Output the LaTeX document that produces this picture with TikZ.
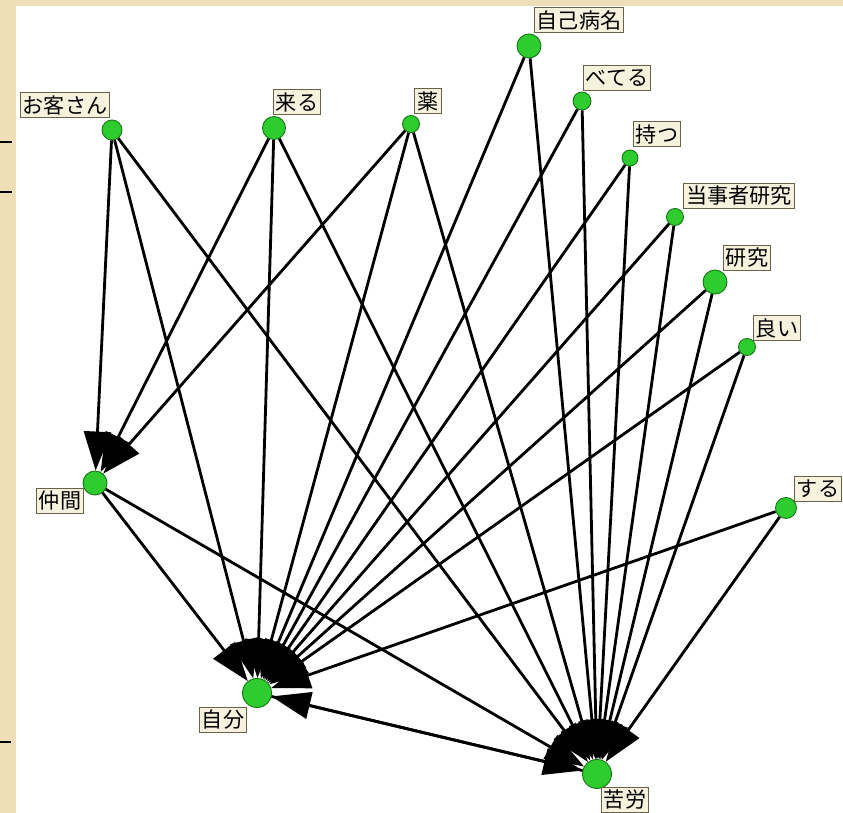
\documentclass[tikz,border=0pt]{standalone}
\usepackage{fontspec}
\newfontfamily\jpfont{Noto Sans CJK JP}
\usetikzlibrary{arrows.meta}

\definecolor{parch}{RGB}{238,223,184}
\definecolor{vgreen}{RGB}{46,204,46}
\definecolor{vline}{RGB}{20,115,20}
\definecolor{labfill}{RGB}{247,242,221}
\definecolor{labline}{RGB}{105,98,72}

\tikzset{
  vert/.style={circle, draw=vline, fill=vgreen, line width=0.5pt, inner sep=0pt},
  lab/.style={rectangle, draw=labline, fill=labfill, line width=0.6pt, inner xsep=0.05cm, inner ysep=0pt, minimum height=0.5cm, font=\jpfont\fontsize{12}{12}\selectfont},
  link/.style={line width=1.6pt, -{Triangle[length=0.78cm, width=0.54cm]}}
}

\begin{document}
\begin{tikzpicture}[x=0.02cm, y=-0.02cm]

\useasboundingbox (0,0) rectangle (843,813);
\fill [white] (0,0) rectangle (843,813);
\fill [parch] (0,0) rectangle (843,6);
\fill [parch] (0,0) rectangle (16,813);
\draw [line width=1.6pt] (0,142) -- (12,142);
\draw [line width=1.6pt] (0,192) -- (12,192);
\draw [line width=1.6pt] (0,742) -- (11,742);

\draw (112,130) node (okyaku) [vert, minimum size=0.40cm] {};
\draw (274,128) node (kuru) [vert, minimum size=0.46cm] {};
\draw (411,124) node (kusuri) [vert, minimum size=0.34cm] {};
\draw (529,46) node (jiko) [vert, minimum size=0.48cm] {};
\draw (582,101) node (beteru) [vert, minimum size=0.36cm] {};
\draw (630,158) node (motsu) [vert, minimum size=0.32cm] {};
\draw (675,217) node (tojisha) [vert, minimum size=0.34cm] {};
\draw (715,282) node (kenkyu) [vert, minimum size=0.48cm] {};
\draw (747,347) node (yoi) [vert, minimum size=0.34cm] {};
\draw (786,508) node (suru) [vert, minimum size=0.42cm] {};
\draw (95,483) node (nakama) [vert, minimum size=0.48cm] {};
\draw (257,693) node (jibun) [vert, minimum size=0.58cm] {};
\draw (597,774) node (kuro) [vert, minimum size=0.58cm] {};

\draw [link] (okyaku) -- (nakama);
\draw [link] (okyaku) -- (jibun);
\draw [link] (okyaku) -- (kuro);
\draw [link] (kuru) -- (nakama);
\draw [link] (kuru) -- (jibun);
\draw [link] (kuru) -- (kuro);
\draw [link] (kusuri) -- (nakama);
\draw [link] (kusuri) -- (jibun);
\draw [link] (kusuri) -- (kuro);

\draw [link] (jiko) -- (jibun);
\draw [link] (jiko) -- (kuro);
\draw [link] (beteru) -- (jibun);
\draw [link] (beteru) -- (kuro);
\draw [link] (motsu) -- (jibun);
\draw [link] (motsu) -- (kuro);
\draw [link] (tojisha) -- (jibun);
\draw [link] (tojisha) -- (kuro);
\draw [link] (kenkyu) -- (jibun);
\draw [link] (kenkyu) -- (kuro);
\draw [link] (yoi) -- (jibun);
\draw [link] (yoi) -- (kuro);
\draw [link] (suru) -- (jibun);
\draw [link] (suru) -- (kuro);

\draw [link] (nakama) -- (jibun);
\draw [link] (nakama) -- (kuro);
\draw [link] (jibun) -- (kuro);
\draw [link] (kuro) -- (jibun);

\draw (65,105) node (lokyaku) [lab] {お客さん};
\draw (297,102) node (lkuru) [lab] {来る};
\draw (428,101) node (lkusuri) [lab] {薬};
\draw (579,20) node (ljiko) [lab] {自己病名};
\draw (617,78) node (lbeteru) [lab] {べてる};
\draw (657,134) node (lmotsu) [lab] {持つ};
\draw (739,196) node (ltojisha) [lab] {当事者研究};
\draw (747,258) node (lkenkyu) [lab] {研究};
\draw (777,328) node (lyoi) [lab] {良い};
\draw (818,489) node (lsuru) [lab] {する};
\draw (60,501) node (lnakama) [lab] {仲間};
\draw (223,720) node (ljibun) [lab] {自分};
\draw (625,800) node (lkuro) [lab] {苦労};

\end{tikzpicture}
\end{document}
